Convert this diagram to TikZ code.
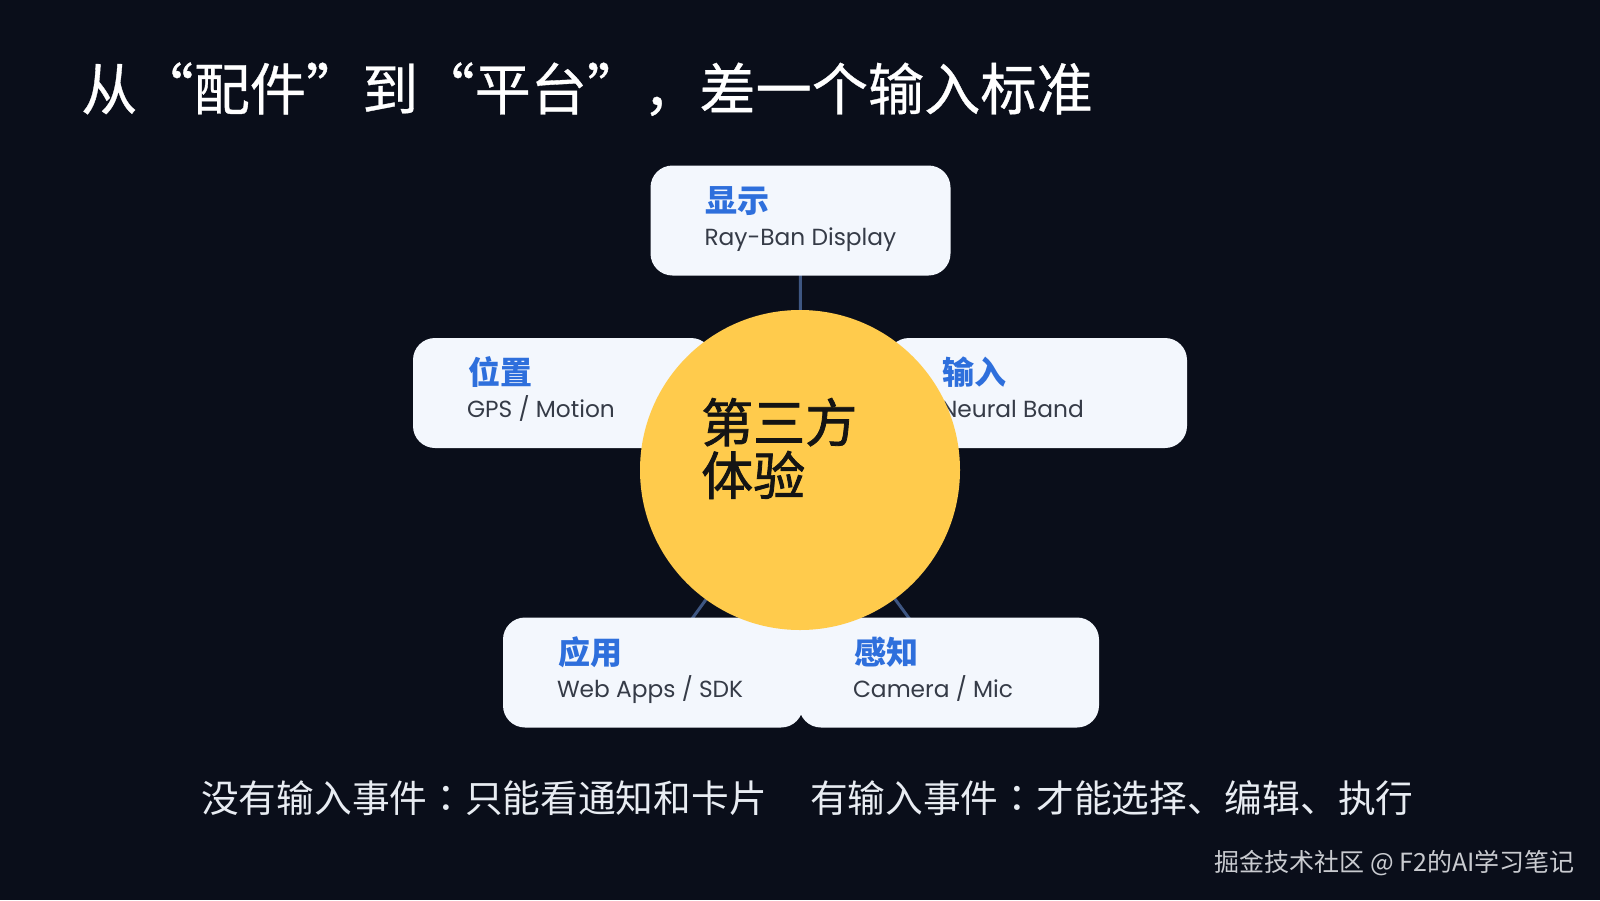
\documentclass[tikz,border=0pt]{standalone}
\usepackage{fontspec}
\newfontfamily\cjk{Noto Sans CJK SC}
\newfontfamily\cjktc{Noto Sans CJK TC}
\newfontfamily\cjkfw{Noto Sans CJK SC}[RawFeature=+fwid,FakeBold=0.6]
\newfontfamily\cjkhub{Noto Sans CJK SC}[FakeBold=1.5]
\newfontfamily\lat{Poppins}
\usetikzlibrary{calc}
\definecolor{bg}{HTML}{0A0E1A}
\definecolor{cardfill}{HTML}{F3F7FD}
\definecolor{labblue}{HTML}{2E6FDC}
\definecolor{subgray}{HTML}{353B47}
\definecolor{conn}{HTML}{3E5682}
\definecolor{sun}{HTML}{FFCB4C}
\definecolor{captxt}{HTML}{E8ECF2}
\definecolor{wmtxt}{HTML}{C9CBD0}
\pgfdeclarelayer{back}
\pgfdeclarelayer{links}
\pgfsetlayers{back,links,main}
\begin{document}
\begin{tikzpicture}[x=1pt,y=-1pt,
  card/.style={fill=cardfill, rounded corners=22pt, minimum width=300pt, minimum height=110pt, inner sep=0pt, draw=none},
  labeltext/.style={anchor=base west, inner sep=0pt, text=labblue, font=\cjk\bfseries\fontsize{32}{32}\selectfont},
  subtext/.style={anchor=base west, inner sep=0pt, text=subgray, font=\lat\fontsize{23.3}{23.3}\selectfont},
  hubtext/.style={anchor=base west, inner sep=0pt, text=black!92, font=\cjkhub\fontsize{52}{52}\selectfont},
  link/.style={draw=conn, line width=3pt}]
\begin{pgfonlayer}{back}
\fill[bg] (0,0) rectangle (1600,900);
\end{pgfonlayer}
\useasboundingbox (0,0) rectangle (1600,900);

% title
\node[anchor=base west, inner sep=0pt, text=white, font=\cjkfw\fontsize{56.2}{56.2}\selectfont] (title) at (81,110) {从“配件”到“平台”，差一个输入标准};

% cards
\node[card] (disp) at (800.5,220.5) {};
\node[card] (pos) at (563,393) {};
\node[card] (inp) at (1037,393) {};
\node[card] (app) at (653,672.5) {};
\node[card] (sense) at (949,672.5) {};

\node[labeltext] (dispL) at ($(disp.north west)+(55,47)$) {显示};
\node[subtext] (dispS) at ($(disp.north west)+(54,80)$) {Ray-Ban Display};
\node[labeltext] (posL) at ($(pos.north west)+(55,47)$) {位置};
\node[subtext] (posS) at ($(pos.north west)+(54,80)$) {GPS / Motion};
\node[labeltext] (inpL) at ($(inp.north west)+(55,47)$) {输入};
\node[subtext] (inpS) at ($(inp.north west)+(54,80)$) {Neural Band};
\node[labeltext] (appL) at ($(app.north west)+(55,47)$) {应用};
\node[subtext] (appS) at ($(app.north west)+(54,80)$) {Web Apps / SDK};
\node[labeltext] (senseL) at ($(sense.north west)+(55,47)$) {感知};
\node[subtext] (senseS) at ($(sense.north west)+(54,80)$) {Camera / Mic};

% hub
\node[circle, fill=sun, minimum size=320pt, inner sep=0pt] (hub) at (800,470) {};
\node[hubtext] (hubA) at (701,442) {第三方};
\node[hubtext] (hubB) at (701,495) {体验};

\begin{pgfonlayer}{links}
\draw[link] (hub.center) -- (disp.center);
\draw[link] (hub.center) -- (pos.center);
\draw[link] (hub.center) -- (inp.center);
\draw[link] (hub.center) -- (app.center);
\draw[link] (hub.center) -- (sense.center);
\end{pgfonlayer}

% caption
\node[anchor=base west, inner sep=0pt, text=captxt, font=\cjk\fontsize{37.7}{37.7}\selectfont] (caption) at (201,812) {没有输入事件{\cjktc ：}只能看通知和卡片\hspace{43.5pt}有输入事件{\cjktc ：}才能选择、编辑、执行};

% watermark
\node[anchor=base east, inner sep=0pt, text=wmtxt, font=\cjk\fontsize{25}{25}\selectfont] (wm) at (1575,871) {掘金技术社区 @ F2的AI学习笔记};
\end{tikzpicture}
\end{document}
